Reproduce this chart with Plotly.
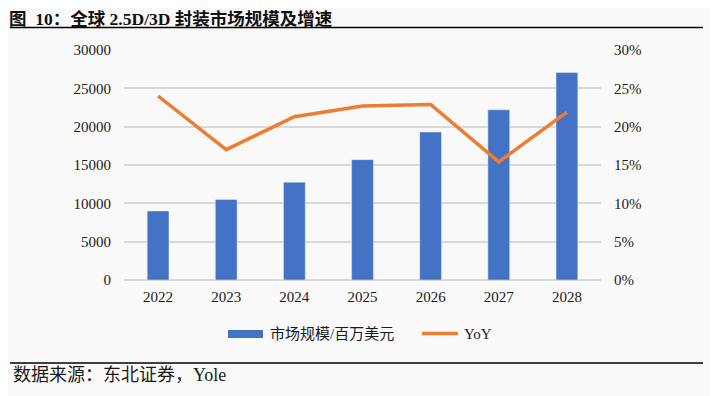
import plotly.graph_objects as go

years = ["2022", "2023", "2024", "2025", "2026", "2027", "2028"]
market = [9000, 10500, 12750, 15700, 19300, 22200, 27050]
yoy = [0.240, 0.170, 0.213, 0.227, 0.229, 0.154, 0.219]

left_ticks = [0, 5000, 10000, 15000, 20000, 25000, 30000]
right_ticks = [0, 0.05, 0.10, 0.15, 0.20, 0.25, 0.30]
right_labels = ["0%", "5%", "10%", "15%", "20%", "25%", "30%"]

serif = "Liberation Serif, Times New Roman, serif"
cjk = "Liberation Serif, Noto Sans CJK SC, serif"

BAR_COLOR = "#4472c4"
LINE_COLOR = "#ed7d31"

# page body has an 8px margin, so figure coords = screen coords - 8
W, H = 718, 396
L, T, PW, PH = 116, 42, 477, 230


def px(fx):
    return (fx - L) / PW


def py(fy):
    return 1 - (fy - T) / PH


fig = go.Figure()
fig.add_trace(go.Bar(
    x=years, y=market, name="市场规模/百万美元",
    marker=dict(color=BAR_COLOR), width=0.32, yaxis="y", showlegend=False,
))
fig.add_trace(go.Scatter(
    x=years, y=yoy, name="YoY", mode="lines",
    line=dict(color=LINE_COLOR, width=3.5), yaxis="y2", showlegend=False,
))

fig.update_layout(
    width=W, height=H,
    margin=dict(l=L, r=W - L - PW, t=T, b=H - T - PH, autoexpand=False),
    paper_bgcolor="#f9f9f9", plot_bgcolor="#f9f9f9",
    showlegend=False,
    xaxis=dict(type="category", tickfont=dict(family=serif, size=15, color="#1a1a1a"),
               showgrid=False, showline=False, ticks="", ticklabelstandoff=6),
    yaxis=dict(range=[0, 30000], tickvals=left_ticks, ticktext=[str(v) for v in left_ticks],
               tickfont=dict(family=serif, size=15, color="#1a1a1a"),
               showgrid=True, gridcolor="#d9d9d9", gridwidth=1.5, zeroline=True,
               zerolinecolor="#d9d9d9", zerolinewidth=1.5, ticks="", ticklabelstandoff=12),
    yaxis2=dict(range=[0, 0.30], overlaying="y", side="right", tickvals=right_ticks,
                ticktext=right_labels, tickfont=dict(family=serif, size=15, color="#1a1a1a"),
                showgrid=False, zeroline=False, ticks="", ticklabelstandoff=12),
)

# title
fig.add_annotation(
    text="<b>图  10：全球 2.5D/3D 封装市场规模及增速</b>",
    xref="paper", yref="paper", x=px(0), y=py(0),
    xanchor="left", yanchor="top", showarrow=False, borderpad=0,
    font=dict(family=cjk, size=17.5, color="#111"),
)
# source
fig.add_annotation(
    text="数据来源：东北证券，Yole",
    xref="paper", yref="paper", x=px(3), y=py(367),
    xanchor="left", yanchor="middle", showarrow=False,
    font=dict(family=cjk, size=18, color="#1a1a1a"),
)
# title underline and footer line
for fy in (19.5, 355):
    fig.add_shape(type="line", xref="paper", yref="paper",
                  x0=px(2), x1=px(695), y0=py(fy), y1=py(fy),
                  line=dict(color="#000", width=1.5))

# manual legend
fig.add_shape(type="rect", xref="paper", yref="paper",
              x0=px(220), x1=px(255), y0=py(322), y1=py(330),
              line=dict(width=0), fillcolor=BAR_COLOR)
fig.add_annotation(text="市场规模/百万美元", xref="paper", yref="paper",
                   x=px(260), y=py(326), xanchor="left", yanchor="middle",
                   showarrow=False, font=dict(family=cjk, size=15, color="#1a1a1a"))
fig.add_shape(type="line", xref="paper", yref="paper",
              x0=px(414), x1=px(450), y0=py(325.5), y1=py(325.5),
              line=dict(color=LINE_COLOR, width=3.5))
fig.add_annotation(text="YoY", xref="paper", yref="paper",
                   x=px(454), y=py(326), xanchor="left", yanchor="middle",
                   showarrow=False, font=dict(family=cjk, size=15, color="#1a1a1a"))

fig.write_html("out.html")
